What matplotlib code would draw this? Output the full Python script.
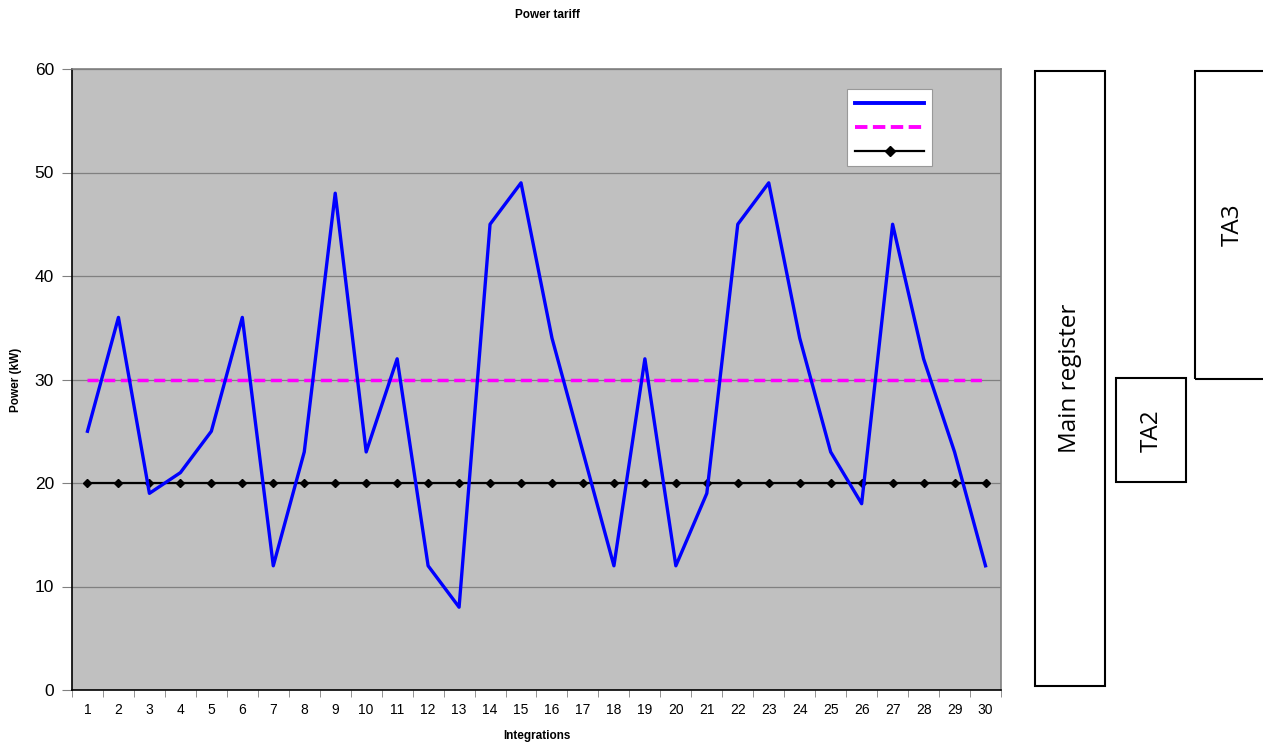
import matplotlib
matplotlib.use("Agg")
import matplotlib.pyplot as plt
from matplotlib.patches import Rectangle
from matplotlib.lines import Line2D
import numpy as np

integrations = list(range(1, 31))
power = [25, 36, 19, 21, 25, 36, 12, 23, 48, 23, 32, 12, 8, 45, 49,
         34, 23, 12, 32, 12, 19, 45, 49, 34, 23, 18, 45, 32, 23, 12]
limit_high = [30] * 30
limit_low = [20] * 30
y_ticks = [0, 10, 20, 30, 40, 50, 60]

plt.rcParams['font.family'] = ['Liberation Sans', 'DejaVu Sans']

fig = plt.figure(figsize=(12.63, 7.49), dpi=100)
ax = fig.add_axes([72/1263, 59/749, 929/1263, 621/749])
ax.set_facecolor('#C0C0C0')

ax.plot(integrations, power, color='#0000FF', lw=2.4, zorder=4)
ax.plot(integrations, limit_high, color='#FF00FF', lw=2.5, ls=(0, (3.2, 1.6)), zorder=3)
ax.plot(integrations, limit_low, color='black', lw=1.6, marker='D', markersize=4.5, zorder=3)

ax.set_xlim(0.5, 30.5)
ax.set_ylim(0, 60)
ax.set_yticks(y_ticks)
ax.set_xticks(integrations)
ax.set_xticks(np.arange(0.5, 31, 1), minor=True)
ax.tick_params(axis='x', which='major', length=0, labelsize=10, pad=9)
ax.tick_params(axis='x', which='minor', length=5, color='#808080', direction='out')
ax.tick_params(axis='y', length=7, color='#808080', labelsize=12.5, pad=6)
ax.yaxis.grid(True, color='#808080', lw=0.9)
ax.set_axisbelow(True)
for s in ['top', 'right']:
    ax.spines[s].set_color('#808080')
    ax.spines[s].set_linewidth(1.2)
for s in ['left', 'bottom']:
    ax.spines[s].set_color('black')
    ax.spines[s].set_linewidth(1.2)

ax.set_xlabel('Integrations', fontsize=8.5, fontweight='bold', labelpad=10)
ax.set_ylabel('Power (kW)', fontsize=8.5, fontweight='bold', labelpad=9)
fig.text(547/1263, 1 - 15/749, 'Power tariff', fontsize=8.5, fontweight='bold',
         ha='center', va='center')

handles = [Line2D([], [], color='#0000FF', lw=2.8),
           Line2D([], [], color='#FF00FF', lw=2.8, ls=(0, (3.2, 1.4))),
           Line2D([], [], color='black', lw=1.6, marker='D', markersize=5)]
leg = ax.legend(handles, ['', '', ''], loc='upper right',
                bbox_to_anchor=((932-72)/929, (690-89)/621),
                fancybox=False, framealpha=1, edgecolor='#999999',
                handlelength=5.0, handletextpad=0, labelspacing=0.72,
                borderpad=0.55, borderaxespad=0, fontsize=10)
leg.get_frame().set_linewidth(0.8)

# Register boxes (figure pixel coords converted to fractions)
def box(x0, y0, x1, y1):
    r = Rectangle((x0/1263, 1 - y1/749), (x1-x0)/1263, (y1-y0)/749,
                  transform=fig.transFigure, fill=False, edgecolor='black', lw=1.5)
    fig.add_artist(r)

box(1035, 71, 1105, 686)
box(1116, 378, 1186, 482)
box(1195, 71, 1290, 379)
fig.text(1070/1263, 1 - 378/749, 'Main register', rotation=90, fontsize=17.5,
         family='Open Sans', ha='center', va='center')
fig.text(1152/1263, 1 - 431/749, 'TA2', rotation=90, fontsize=17.5,
         family='Open Sans', ha='center', va='center')
fig.text(1233/1263, 1 - 225/749, 'TA3', rotation=90, fontsize=17.5,
         family='Open Sans', ha='center', va='center')

fig.savefig('out.png', dpi=100)
